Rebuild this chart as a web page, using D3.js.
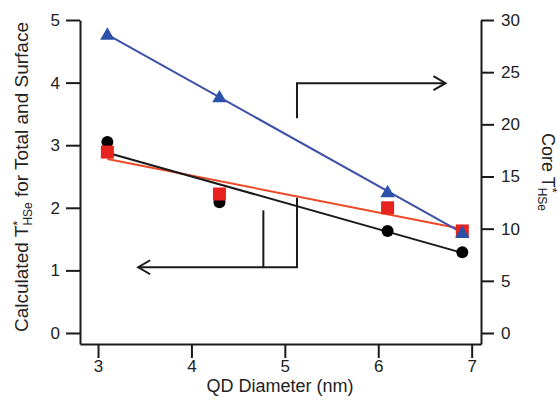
<!DOCTYPE html>
<html>
<head>
<meta charset="utf-8">
<script src="https://cdn.jsdelivr.net/npm/d3@7"></script>
<style>
  body { margin: 0; background: #fff; }
  svg { display: block; font-family: "Liberation Sans", Arial, sans-serif; }
</style>
</head>
<body>
<div class="canva"></div>
<script>
// values
const diameters = [3.1, 4.3, 6.1, 6.9];
const totalT = [3.05, 2.09, 1.63, 1.29];     // black circles, left axis
const surfaceT = [2.89, 2.22, 2.0, 1.63];    // red squares, left axis
const coreT = [28.6, 22.6, 13.5, 9.6];       // blue triangles, right axis

const fitX = [3.1, 6.9];
const totalFit = [2.88, 1.28];
const surfaceFit = [2.78, 1.66];
const coreFit = [28.6, 9.6];

const xTicks = [3, 4, 5, 6, 7];
const leftTicks = [0, 1, 2, 3, 4, 5];
const rightTicks = [0, 5, 10, 15, 20, 25, 30];

// annotation arrows, in (diameter, left axis) units
const arrowUp = [[5.13, 3.43], [5.13, 3.99], [6.72, 3.99]];
const arrowDown = [[5.13, 2.16], [5.13, 1.05], [3.43, 1.05]];
const arrowBranch = [[4.77, 1.96], [4.77, 1.05]];

const width = 560, height = 412;

const svg = d3.select(".canva").append("svg")
    .attr("width", width)
    .attr("height", height);

const x = d3.scaleLinear().domain([2.807, 7.1]).range([80, 481]);
const yL = d3.scaleLinear().domain([-0.176, 5]).range([344, 20]);
const yR = d3.scaleLinear().domain([-1.054, 30]).range([344, 20]);

const ink = "#1a1a1a";
const fmt = d3.format("d");

function styleAxis(g) {
    g.selectAll("path, line").attr("stroke", ink).attr("stroke-width", 2);
    g.selectAll("text").attr("fill", "#222").style("font-size", "17px")
        .style("font-family", "Liberation Sans, Arial, sans-serif");
}

svg.append("g")
    .attr("transform", "translate(0, 344)")
    .call(d3.axisBottom(x).tickValues(xTicks).tickFormat(fmt)
        .tickSize(14).tickSizeOuter(0).tickPadding(2))
    .call(styleAxis);

svg.append("g")
    .attr("transform", "translate(80, 0)")
    .call(d3.axisLeft(yL).tickValues(leftTicks).tickFormat(fmt)
        .tickSize(14).tickSizeOuter(0).tickPadding(6))
    .call(styleAxis);

svg.append("g")
    .attr("transform", "translate(481, 0)")
    .call(d3.axisRight(yR).tickValues(rightTicks).tickFormat(fmt)
        .tickSize(13).tickSizeOuter(0).tickPadding(7))
    .call(styleAxis);

// axis titles
svg.append("text")
    .attr("x", 280)
    .attr("y", 392)
    .attr("text-anchor", "middle")
    .attr("fill", "#222")
    .style("font-size", "18px")
    .text("QD Diameter (nm)");

const leftTitle = svg.append("text")
    .attr("transform", "translate(28, 177) rotate(-90)")
    .attr("text-anchor", "middle")
    .attr("fill", "#222")
    .style("font-size", "19px");
leftTitle.append("tspan").text("Calculated T");
leftTitle.append("tspan").attr("dy", -6).style("font-size", "13px").text("*");
leftTitle.append("tspan").attr("dx", -5).attr("dy", 10).style("font-size", "12px").text("HSe");
leftTitle.append("tspan").attr("dy", -4).text(" for Total and Surface");

const rightTitle = svg.append("text")
    .attr("transform", "translate(542, 172) rotate(90)")
    .attr("text-anchor", "middle")
    .attr("fill", "#222")
    .style("font-size", "18px");
rightTitle.append("tspan").text("Core T");
rightTitle.append("tspan").attr("dy", -6).style("font-size", "13px").text("*");
rightTitle.append("tspan").attr("dx", -5).attr("dy", 10).style("font-size", "12px").text("HSe");

// fit lines
const fitLine = (ys, yScale) => d3.line()
    .x((d, i) => x(fitX[i]))
    .y(d => yScale(d))(ys);

svg.append("path").attr("d", fitLine(surfaceFit, yL))
    .attr("fill", "none").attr("stroke", "#ee4a28").attr("stroke-width", 2);
svg.append("path").attr("d", fitLine(coreFit, yR))
    .attr("fill", "none").attr("stroke", "#3e52a8").attr("stroke-width", 2);
svg.append("path").attr("d", fitLine(totalFit, yL))
    .attr("fill", "none").attr("stroke", ink).attr("stroke-width", 2);

// markers
svg.selectAll(".total")
    .data(totalT)
    .enter()
    .append("circle")
    .attr("class", "total")
    .attr("cx", (d, i) => x(diameters[i]))
    .attr("cy", d => yL(d))
    .attr("r", 6)
    .attr("fill", "#000");

svg.selectAll(".surface")
    .data(surfaceT)
    .enter()
    .append("rect")
    .attr("class", "surface")
    .attr("x", (d, i) => x(diameters[i]) - 6.5)
    .attr("y", d => yL(d) - 6.5)
    .attr("width", 13)
    .attr("height", 13)
    .attr("fill", "#e8231f");

const tri = d3.symbol().type(d3.symbolTriangle).size(90);
svg.selectAll(".core")
    .data(coreT)
    .enter()
    .append("path")
    .attr("class", "core")
    .attr("d", tri)
    .attr("transform", (d, i) => `translate(${x(diameters[i])}, ${yR(d) + 1})`)
    .attr("fill", "#2b52a8");

// arrows
const arrowLine = d3.line().x(d => x(d[0])).y(d => yL(d[1]));

function drawArrow(pts, head) {
    svg.append("path").attr("d", arrowLine(pts))
        .attr("fill", "none").attr("stroke", ink).attr("stroke-width", 2);
    if (!head) return;
    const end = pts[pts.length - 1], prev = pts[pts.length - 2];
    const ex = x(end[0]), ey = yL(end[1]);
    const dir = Math.sign(x(end[0]) - x(prev[0]));
    svg.append("path")
        .attr("d", `M${ex - dir * 12},${ey - 7}L${ex},${ey}L${ex - dir * 12},${ey + 7}`)
        .attr("fill", "none").attr("stroke", ink).attr("stroke-width", 2);
}

drawArrow(arrowUp, true);
drawArrow(arrowDown, true);
drawArrow(arrowBranch, false);
</script>
</body>
</html>
